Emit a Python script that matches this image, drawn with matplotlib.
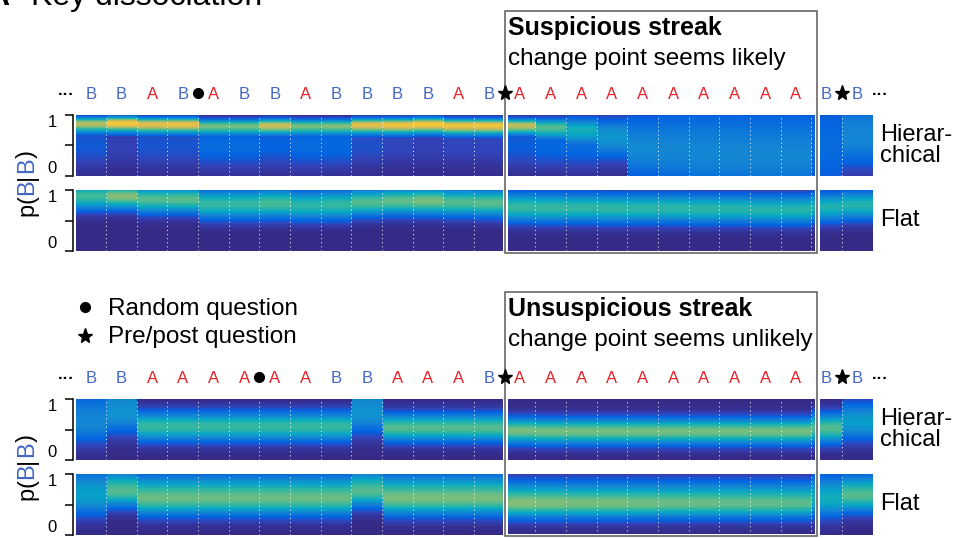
import numpy as np
import matplotlib
matplotlib.use('Agg')
import matplotlib.pyplot as plt
from matplotlib.colors import LinearSegmentedColormap
from matplotlib.patches import Rectangle
from matplotlib.lines import Line2D
from matplotlib.transforms import blended_transform_factory

plt.rcParams['font.family'] = ['Liberation Sans', 'DejaVu Sans']

# trial sequences (one letter per column)
seq_suspicious = list('BBABABBABBBBAB') + list('AAAAAAAAAA') + list('BB')
seq_unsuspicious = list('BBAAAAAABBAAAB') + list('AAAAAAAAAA') + list('BB')
random_q_top = 4       # boundary index of the random question marker
random_q_bot = 6
prepost_q = [14, 25]   # boundary indices of the pre/post question markers
streak_start, streak_end = 14, 24.2

# posterior over p(B|B) per column: mode, peak level, upper/lower spread
hier_top_mode = [0.86, 0.87, 0.85, 0.85, 0.82, 0.82, 0.83, 0.82, 0.82, 0.84, 0.84, 0.85, 0.83, 0.83,
                 0.83, 0.80, 0.76, 0.65, 0.45, 0.40, 0.37, 0.35, 0.34, 0.33, 0.50, 0.62]
hier_top_peak = [0.70, 0.86, 0.80, 0.82, 0.60, 0.60, 0.74, 0.60, 0.62, 0.80, 0.84, 0.86, 0.84, 0.85,
                 0.72, 0.55, 0.42, 0.32, 0.27, 0.26, 0.26, 0.26, 0.26, 0.26, 0.16, 0.26]
hier_top_wup = [0.07, 0.07, 0.07, 0.07, 0.07, 0.07, 0.07, 0.07, 0.07, 0.07, 0.07, 0.07, 0.07, 0.07,
                0.07, 0.09, 0.13, 0.20, 0.40, 0.50, 0.55, 0.55, 0.55, 0.55, 0.60, 0.50]
hier_top_wdn = [0.10, 0.10, 0.10, 0.10, 0.10, 0.10, 0.10, 0.10, 0.10, 0.10, 0.10, 0.10, 0.10, 0.10,
                0.10, 0.13, 0.18, 0.25, 0.35, 0.40, 0.45, 0.45, 0.45, 0.45, 0.60, 0.33]
hier_top_floor = [0.11, 0.06, 0.10, 0.10, 0.16, 0.16, 0.13, 0.16, 0.15, 0.09, 0.07, 0.06, 0.07, 0.07,
                  0.12, 0.15, 0.16, 0.12, 0.00, 0.00, 0.00, 0.00, 0.00, 0.00, 0.00, 0.00]

flat_top_mode = [0.90, 0.90, 0.85, 0.85, 0.77, 0.77, 0.78, 0.75, 0.76, 0.80, 0.82, 0.82, 0.80, 0.79,
                 0.72, 0.71, 0.71, 0.70, 0.70, 0.70, 0.69, 0.69, 0.68, 0.68, 0.72, 0.75]
flat_top_peak = [0.52, 0.62, 0.55, 0.56, 0.50, 0.50, 0.53, 0.48, 0.50, 0.55, 0.57, 0.60, 0.55, 0.56,
                 0.50, 0.50, 0.49, 0.49, 0.48, 0.48, 0.48, 0.47, 0.47, 0.47, 0.45, 0.46]
flat_top_wup = [0.14, 0.13, 0.14, 0.14, 0.16, 0.16, 0.16, 0.16, 0.16, 0.15, 0.15, 0.15, 0.15, 0.15,
                0.16, 0.16, 0.16, 0.16, 0.16, 0.16, 0.16, 0.16, 0.16, 0.16, 0.16, 0.16]
flat_top_wdn = [0.15, 0.14, 0.15, 0.15, 0.16, 0.16, 0.16, 0.16, 0.16, 0.15, 0.15, 0.15, 0.15, 0.15,
                0.16, 0.16, 0.16, 0.16, 0.16, 0.16, 0.16, 0.16, 0.16, 0.16, 0.16, 0.16]

hier_bot_mode = [0.60, 0.75, 0.55, 0.55, 0.55, 0.55, 0.55, 0.55, 0.55, 0.75, 0.53, 0.53, 0.53, 0.53,
                 0.48, 0.47, 0.47, 0.47, 0.47, 0.47, 0.47, 0.47, 0.47, 0.47, 0.52, 0.62]
hier_bot_peak = [0.26, 0.30, 0.50, 0.50, 0.50, 0.50, 0.50, 0.50, 0.50, 0.30, 0.55, 0.55, 0.55, 0.55,
                 0.60, 0.60, 0.60, 0.60, 0.60, 0.60, 0.60, 0.60, 0.60, 0.60, 0.55, 0.35]
hier_bot_wup = [0.40, 0.45, 0.16, 0.16, 0.16, 0.16, 0.16, 0.16, 0.16, 0.45, 0.15, 0.15, 0.15, 0.15,
                0.14, 0.14, 0.14, 0.14, 0.14, 0.14, 0.14, 0.14, 0.14, 0.14, 0.16, 0.22]
hier_bot_wdn = [0.22, 0.22, 0.16, 0.16, 0.16, 0.16, 0.16, 0.16, 0.16, 0.22, 0.15, 0.15, 0.15, 0.15,
                0.14, 0.14, 0.14, 0.14, 0.14, 0.14, 0.14, 0.14, 0.14, 0.14, 0.16, 0.20]

flat_bot_mode = [0.65, 0.72, 0.60, 0.60, 0.60, 0.60, 0.60, 0.60, 0.60, 0.72, 0.60, 0.60, 0.60, 0.60,
                 0.52, 0.52, 0.52, 0.52, 0.52, 0.52, 0.52, 0.52, 0.52, 0.52, 0.60, 0.65]
flat_bot_peak = [0.36, 0.55, 0.58, 0.58, 0.58, 0.58, 0.58, 0.58, 0.58, 0.55, 0.60, 0.60, 0.60, 0.60,
                 0.62, 0.61, 0.60, 0.60, 0.59, 0.58, 0.58, 0.57, 0.57, 0.56, 0.42, 0.55]
flat_bot_wup = [0.30, 0.22, 0.25, 0.25, 0.25, 0.25, 0.25, 0.25, 0.25, 0.22, 0.25, 0.25, 0.25, 0.25,
                0.22, 0.22, 0.22, 0.22, 0.22, 0.22, 0.22, 0.22, 0.22, 0.22, 0.25, 0.22]
flat_bot_wdn = [0.22, 0.17, 0.18, 0.18, 0.18, 0.18, 0.18, 0.18, 0.18, 0.17, 0.18, 0.18, 0.18, 0.18,
                0.16, 0.16, 0.16, 0.16, 0.16, 0.16, 0.16, 0.16, 0.16, 0.16, 0.20, 0.18]

# parula-like colormap
parula = LinearSegmentedColormap.from_list('parula', [
    (0.000, (0.2081, 0.1663, 0.5292)),
    (0.063, (0.1959, 0.2645, 0.7279)),
    (0.127, (0.0117, 0.3875, 0.8820)),
    (0.254, (0.0793, 0.5200, 0.8312)),
    (0.381, (0.0228, 0.6535, 0.7768)),
    (0.508, (0.2178, 0.7250, 0.6193)),
    (0.635, (0.5709, 0.7485, 0.4494)),
    (0.762, (0.8507, 0.7299, 0.3360)),
    (0.889, (0.9880, 0.8066, 0.1794)),
    (1.000, (0.9763, 0.9831, 0.0538))])

W, H = 957.0, 538.0
COL_B = '#4267c4'
COL_A = '#e8202a'
BOX_COL = '#5a5a5a'
n_cols = len(seq_suspicious)


def fx(px):
    return px / W


def fy(px):
    return 1 - px / H


def column_levels(mode, peak, w_up, w_dn, floor=None):
    '''
    colour level of every column along p(B|B) (rows) for the strip image
    '''
    p = np.linspace(0, 1, 240)[:, None]
    mode = np.asarray(mode)[None, :]
    w = np.where(p > mode, np.asarray(w_up)[None, :], np.asarray(w_dn)[None, :])
    lev = np.asarray(peak)[None, :] * np.exp(-0.5 * ((p - mode) / w) ** 2)
    if floor is not None:
        base = np.asarray(floor)[None, :] * np.exp(-0.5 * ((p - 0.5) / 0.25) ** 2)
        lev = np.maximum(lev, base)
    return lev


def draw_strip(fig, top_px, bot_px, lev, label):
    ax = fig.add_axes([fx(75.5), fy(bot_px), fx(797), (bot_px - top_px) / H])
    ax.imshow(lev, cmap=parula, vmin=0, vmax=1, origin='lower', extent=(0, n_cols, 0, 1),
              aspect='auto', interpolation='nearest')
    ax.vlines(np.arange(1, n_cols), 0, 1, colors='white', linestyles=(0, (1.2, 3)),
              linewidth=0.7, alpha=0.85)
    ax.set_xlim(0, n_cols)
    ax.set_ylim(0, 1)
    for s in ['top', 'right', 'bottom']:
        ax.spines[s].set_visible(False)
    ax.spines['left'].set_position(('outward', 1.5))
    ax.spines['left'].set_linewidth(1.1)
    ax.set_xticks([])
    ax.set_yticks([0, 0.5, 1])
    ax.set_yticklabels(['0', '', '1'])
    ax.tick_params(axis='y', length=6, width=1.1, pad=6, labelsize=12)
    labels = ax.get_yticklabels()
    labels[0].set_va('bottom')
    labels[2].set_va('top')
    ax.text(1.009, 0.5, label, transform=ax.transAxes, ha='left', va='center',
            fontsize=17, linespacing=0.95)
    return ax


def sequence_row(fig, ax, seq, base_px, dot_q, star_q):
    tr = blended_transform_factory(ax.transData, fig.transFigure)
    for i, letter in enumerate(seq):
        fig.text(i + 0.5, fy(base_px), letter, transform=tr, ha='center', va='baseline',
                 fontsize=12, color=COL_B if letter == 'B' else COL_A, zorder=4)
    fig.text(-0.3, fy(base_px), '\u00b7\u00b7\u00b7', transform=tr, ha='center', va='baseline',
             fontsize=12, fontweight='bold', zorder=4)
    fig.text(n_cols + 0.27, fy(base_px), '\u00b7\u00b7\u00b7', transform=tr, ha='center',
             va='baseline', fontsize=12, fontweight='bold', zorder=4)
    fig.add_artist(Line2D([dot_q], [fy(base_px - 6)], transform=tr, marker='o', ms=7,
                          color='k', ls='none', zorder=5))
    fig.add_artist(Line2D(star_q, [fy(base_px - 6)] * len(star_q), transform=tr, marker='*',
                          ms=11, color='k', ls='none', zorder=5))


def streak_box(fig, ax, top_px, bot_px, title, subtitle):
    tr = blended_transform_factory(ax.transData, fig.transFigure)
    for lw, col in [(3.6, 'white'), (1.1, BOX_COL)]:
        fig.add_artist(Rectangle((streak_start, fy(bot_px)), streak_end - streak_start,
                                 fy(top_px) - fy(bot_px), transform=tr, fill=False,
                                 ec=col, lw=lw, zorder=2))
    fig.text(streak_start + 0.1, fy(top_px + 24), title, transform=tr, fontsize=18,
             fontweight='bold', va='baseline', zorder=4)
    fig.text(streak_start + 0.1, fy(top_px + 54), subtitle, transform=tr, fontsize=17.5,
             va='baseline', zorder=4)


def stacked_label(fig, x_px, yc_px, pieces, size):
    '''
    rotated label built from coloured pieces stacked bottom to top
    '''
    r = fig.canvas.get_renderer()
    texts, heights = [], []
    for s, c in pieces:
        t = fig.text(fx(x_px), 0, s, color=c, fontsize=size, rotation=90,
                     ha='center', va='bottom')
        texts.append(t)
        heights.append(t.get_window_extent(r).height)
    y = (H - yc_px) - sum(heights) / 2.0
    for t, h in zip(texts, heights):
        t.set_y(y / H)
        y += h


fig = plt.figure(figsize=(9.57, 5.38), dpi=100)

lev_ht = column_levels(hier_top_mode, hier_top_peak, hier_top_wup, hier_top_wdn, hier_top_floor)
lev_ft = column_levels(flat_top_mode, flat_top_peak, flat_top_wup, flat_top_wdn)
lev_hb = column_levels(hier_bot_mode, hier_bot_peak, hier_bot_wup, hier_bot_wdn)
lev_fb = column_levels(flat_bot_mode, flat_bot_peak, flat_bot_wup, flat_bot_wdn)

ax_ht = draw_strip(fig, 115, 176, lev_ht, 'Hierar-\nchical')
ax_ft = draw_strip(fig, 190, 251, lev_ft, 'Flat')
ax_hb = draw_strip(fig, 399, 460, lev_hb, 'Hierar-\nchical')
ax_fb = draw_strip(fig, 474, 535, lev_fb, 'Flat')

sequence_row(fig, ax_ht, seq_suspicious, 99, random_q_top, prepost_q)
sequence_row(fig, ax_hb, seq_unsuspicious, 383, random_q_bot, prepost_q)

streak_box(fig, ax_ht, 11, 253, 'Suspicious streak', 'change point seems likely')
streak_box(fig, ax_hb, 292, 536, 'Unsuspicious streak', 'change point seems unlikely')

# panel title (cut at the top edge)
fig.text(fx(9), fy(5), 'A', fontsize=23, fontweight='bold', ha='right', va='baseline')
fig.text(fx(31), fy(5), 'Key dissociation', fontsize=23, va='baseline')

# legend for the question markers
fig.add_artist(Line2D([fx(85)], [fy(307)], marker='o', ms=7, color='k', ls='none'))
fig.add_artist(Line2D([fx(85)], [fy(336)], marker='*', ms=11, color='k', ls='none'))
fig.text(fx(108), fy(315), 'Random question', fontsize=17.5, va='baseline')
fig.text(fx(108), fy(343), 'Pre/post question', fontsize=17.5, va='baseline')

label_pieces = [('p', 'k'), ('(', 'k'), ('B', COL_B), ('|', 'k'), ('B', COL_B), (')', 'k')]
stacked_label(fig, 27, 183, label_pieces, 17)
stacked_label(fig, 27, 467, label_pieces, 17)

fig.savefig('out.png', dpi=100)
